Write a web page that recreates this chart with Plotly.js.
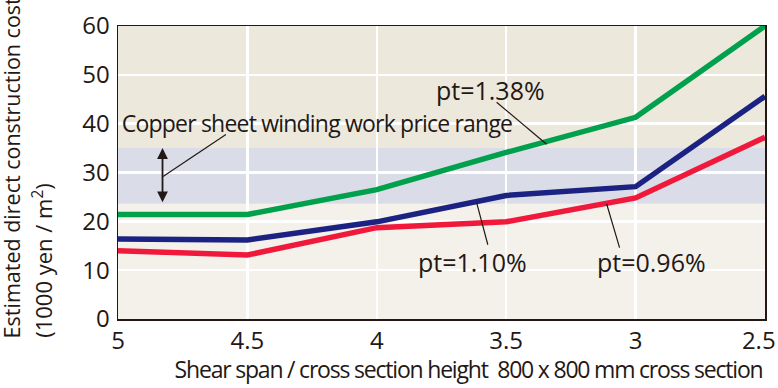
<!DOCTYPE html>
<html>
<head>
<meta charset="utf-8">
<script src="https://cdn.plot.ly/plotly-3.0.1.min.js"></script>
<style>
html,body{margin:0;padding:0;background:#fff;}
#chart{width:778px;height:388px;}
g.annotation[data-index="1"] text{letter-spacing:-0.8px;}
g.annotation[data-index="5"] text{letter-spacing:-1.2px;}
</style>
</head>
<body>
<div id="chart"></div>
<script>
// Data
const ratio = [5, 4.5, 4, 3.5, 3, 2.5];
const pt138 = [21.4, 21.4, 26.5, 34.1, 41.3, 60.0];
const pt110 = [16.4, 16.2, 19.9, 25.3, 27.1, 45.6];
const pt096 = [14.0, 13.1, 18.7, 19.9, 24.8, 37.2];
const seriesNames = ['pt=1.38%', 'pt=1.10%', 'pt=0.96%'];
const priceRange = [23.6, 35.0];
const xTicks = [5, 4.5, 4, 3.5, 3, 2.5];
const xTickText = ['5', '4.5', '4', '3.5', '3', '2.5\u00a0\u00a0'];
const yTicks = [0, 10, 20, 30, 40, 50, 60];

const FONT = '"Open Sans", "Noto Sans", sans-serif';
const TXT = '#231815';

const traces = [
  {x: ratio, y: pt138, name: seriesNames[0], mode: 'lines', line: {color: '#00a04c', width: 5.5}},
  {x: ratio, y: pt110, name: seriesNames[1], mode: 'lines', line: {color: '#1b2282', width: 5.5}},
  {x: ratio, y: pt096, name: seriesNames[2], mode: 'lines', line: {color: '#f0193c', width: 5.5}}
];

const shapes = [
  {type: 'rect', layer: 'below', xref: 'paper', yref: 'y', x0: 0, x1: 1, y0: 0, y1: priceRange[0], fillcolor: '#f3f1ea', line: {width: 0}},
  {type: 'rect', layer: 'below', xref: 'paper', yref: 'y', x0: 0, x1: 1, y0: priceRange[0], y1: priceRange[1], fillcolor: '#dadce7', line: {width: 0}},
  {type: 'rect', layer: 'below', xref: 'paper', yref: 'y', x0: 0, x1: 1, y0: priceRange[1], y1: 60, fillcolor: '#ece8dc', line: {width: 0}},
  // leader lines
  {type: 'line', xref: 'x', yref: 'y', x0: 4.583, y0: 37.8, x1: 4.826, y1: 29.2, line: {color: TXT, width: 1.2}},
  {type: 'line', xref: 'x', yref: 'y', x0: 3.537, y0: 44.4, x1: 3.344, y1: 35.8, line: {color: TXT, width: 1.2}},
  {type: 'line', xref: 'x', yref: 'y', x0: 3.614, y0: 23.8, x1: 3.571, y1: 15.2, line: {color: TXT, width: 1.2}},
  {type: 'line', xref: 'x', yref: 'y', x0: 3.112, y0: 23.6, x1: 3.062, y1: 14.6, line: {color: TXT, width: 1.2}}
];

const annotations = [
  // 0: double arrow spanning price range
  {x: 4.828, y: priceRange[1], ax: 4.828, ay: priceRange[0], xref: 'x', yref: 'y', axref: 'x', ayref: 'y',
   text: '', showarrow: true, arrowhead: 2, startarrowhead: 2, arrowside: 'end+start', arrowsize: 1.2, arrowwidth: 1.8, arrowcolor: TXT},
  // 1
  {x: 4.230, y: 40.1, xref: 'x', yref: 'y', xanchor: 'center', yanchor: 'middle', showarrow: false,
   text: 'Copper sheet winding work price range', font: {family: FONT, size: 23, color: TXT}},
  // 2-4
  {x: 3.560, y: 46.9, xref: 'x', yref: 'y', xanchor: 'center', yanchor: 'middle', showarrow: false,
   text: seriesNames[0], font: {family: FONT, size: 25, color: TXT}},
  {x: 3.631, y: 11.7, xref: 'x', yref: 'y', xanchor: 'center', yanchor: 'middle', showarrow: false,
   text: seriesNames[1], font: {family: FONT, size: 25, color: TXT}},
  {x: 2.940, y: 11.7, xref: 'x', yref: 'y', xanchor: 'center', yanchor: 'middle', showarrow: false,
   text: seriesNames[2], font: {family: FONT, size: 25, color: TXT}},
  // 5: x title
  {x: 0.5417, y: -0.172, xref: 'paper', yref: 'paper', xanchor: 'center', yanchor: 'middle', showarrow: false,
   text: 'Shear span / cross section height\u00a0\u00a0800 x 800 mm cross section', font: {family: FONT, size: 23, color: TXT}},
  // 6-7: y title lines
  {x: -0.164, y: -0.0717, xref: 'paper', yref: 'paper', xanchor: 'center', yanchor: 'bottom', textangle: -90, showarrow: false,
   text: 'Estimated direct construction cost', font: {family: FONT, size: 21.5, color: TXT}},
  {x: -0.117, y: -0.0717, xref: 'paper', yref: 'paper', xanchor: 'center', yanchor: 'bottom', textangle: -90, showarrow: false,
   text: '(1000 yen / m<sup>2</sup>)', font: {family: FONT, size: 22, color: TXT}}
];

const layout = {
  width: 778, height: 388,
  margin: {l: 118, r: 13, t: 26, b: 69},
  paper_bgcolor: '#ffffff',
  plot_bgcolor: 'rgba(0,0,0,0)',
  showlegend: false,
  xaxis: {
    range: [5, 2.5], tickvals: xTicks, ticktext: xTickText,
    showgrid: true, gridcolor: '#ffffff', gridwidth: 2.5,
    showline: true, linecolor: TXT, linewidth: 1.5, mirror: true,
    ticks: '', ticklabelstandoff: 0, ticklabeloverflow: 'allow',
    tickfont: {family: FONT, size: 24, color: TXT}, zeroline: false
  },
  yaxis: {
    range: [0, 60], tickvals: yTicks,
    showgrid: true, gridcolor: '#ffffff', gridwidth: 2.5,
    showline: true, linecolor: TXT, linewidth: 1.5, mirror: true,
    ticks: '', ticklabelstandoff: 2, ticklabeloverflow: 'allow',
    tickfont: {family: FONT, size: 24, color: TXT}, zeroline: false
  },
  shapes: shapes,
  annotations: annotations
};

Plotly.newPlot('chart', traces, layout, {displayModeBar: false, staticPlot: true});
</script>
</body>
</html>
